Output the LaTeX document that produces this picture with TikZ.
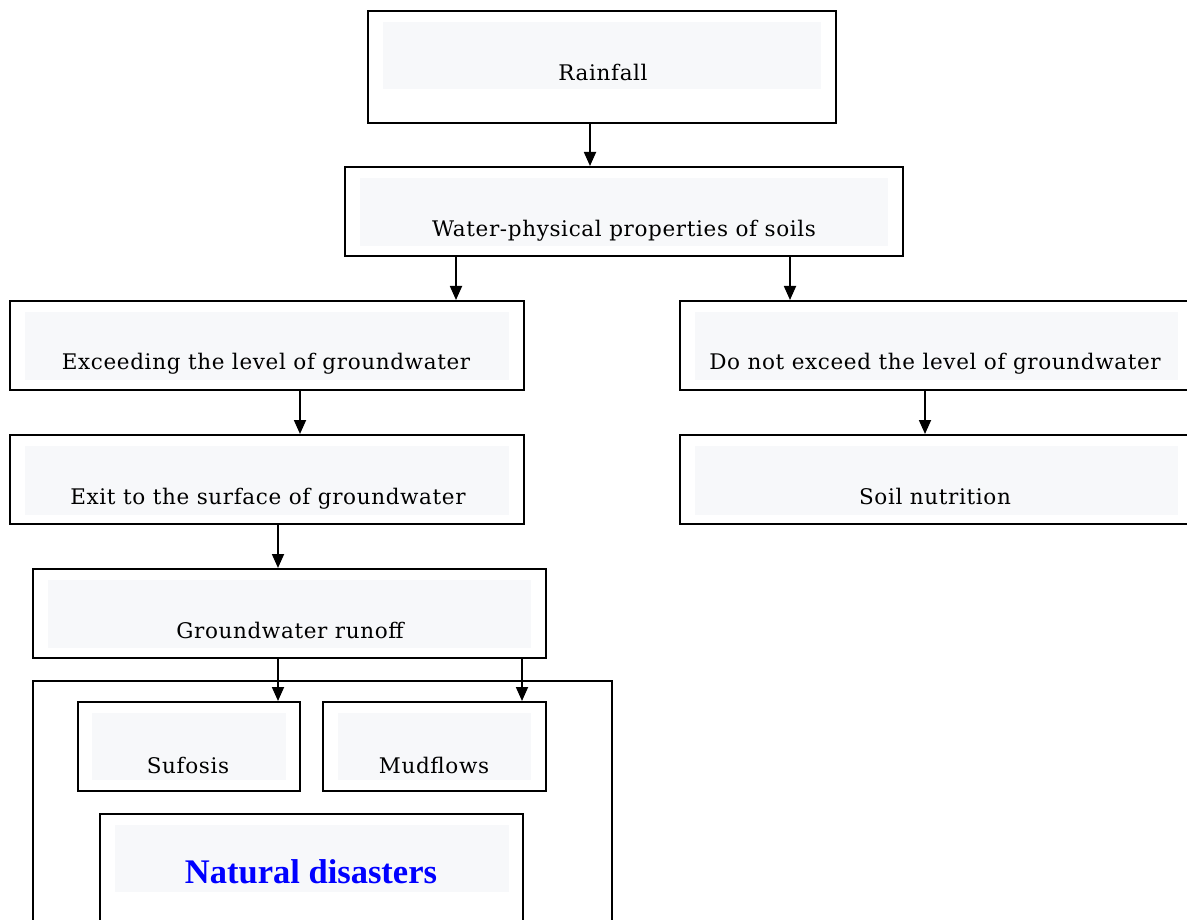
\documentclass[tikz,border=0pt]{standalone}
\usepackage{fontspec}
\setmainfont{DejaVu Serif}[LetterSpace=3]
\newfontfamily\ndfont{Liberation Serif}
\usetikzlibrary{arrows.meta}
\definecolor{panelgray}{RGB}{247,248,250}
\definecolor{ndblue}{RGB}{0,0,255}
\begin{document}
\begin{tikzpicture}[x=1pt,y=-1pt,
  box/.style={draw=black, line width=1.9pt, fill=none},
  lbl/.style={anchor=base, inner sep=0pt, font=\fontsize{21.5}{25}\selectfont},
  arr/.style={-{Triangle[width=12pt,length=14pt]}, line width=1.8pt}]
\useasboundingbox (0,0) rectangle (1187,920);
\clip (0,0) rectangle (1187,920);
\fill[white] (0,0) rectangle (1187,920);
% panels
\fill[panelgray] (383,22) rectangle (821,89);
\fill[panelgray] (360,178) rectangle (888,246);
\fill[panelgray] (25,312) rectangle (509,380);
\fill[panelgray] (695,312) rectangle (1178,380);
\fill[panelgray] (25,446) rectangle (509,515);
\fill[panelgray] (695,446) rectangle (1178,515);
\fill[panelgray] (48,580) rectangle (531,648);
\fill[panelgray] (92,713) rectangle (286,780);
\fill[panelgray] (338,713) rectangle (531,780);
\fill[panelgray] (115,825) rectangle (509,892);
% boxes
\node[box, anchor=north west, minimum width=468pt, minimum height=112pt] (rain) at (367,10) {};
\node[box, anchor=north west, minimum width=558pt, minimum height=89pt] (water) at (344,166) {};
\node[box, anchor=north west, minimum width=514pt, minimum height=89pt] (exc) at (9,300) {};
\node[box, anchor=north west, minimum width=521pt, minimum height=89pt] (dne) at (679,300) {};
\node[box, anchor=north west, minimum width=514pt, minimum height=89pt] (exit) at (9,434) {};
\node[box, anchor=north west, minimum width=521pt, minimum height=89pt] (soil) at (679,434) {};
\node[box, anchor=north west, minimum width=513pt, minimum height=89pt] (runoff) at (32,568) {};
\node[box, anchor=north west, minimum width=579pt, minimum height=260pt] (group) at (32,680) {};
\node[box, anchor=north west, minimum width=222pt, minimum height=89pt] (suf) at (77,701) {};
\node[box, anchor=north west, minimum width=223pt, minimum height=89pt] (mud) at (322,701) {};
\node[box, anchor=north west, minimum width=423pt, minimum height=127pt] (nd) at (99,813) {};
% labels
\node[lbl] (train) at (603,81) {Rainfall};
\node[lbl] (twater) at (624,237) {Water-physical properties of soils};
\node[lbl] (texc) at (266,370) {Exceeding the level of groundwater};
\node[lbl] (tdne) at (935,370) {Do not exceed the level of groundwater};
\node[lbl] (texit) at (268,504) {Exit to the surface of groundwater};
\node[lbl] (tsoil) at (935,504) {Soil nutrition};
\node[lbl] (trunoff) at (290,638) {Groundwater runoff};
\node[lbl] (tsuf) at (188,773) {Sufosis};
\node[lbl] (tmud) at (434,773) {Mudflows};
\node[anchor=base, inner sep=0pt, text=ndblue, font=\ndfont\bfseries\fontsize{34.5}{38}\selectfont] (tnd) at (311,883) {Natural disasters};
% arrow columns
\coordinate (c1) at (590,0);
\coordinate (c2) at (456,0);
\coordinate (c3) at (790,0);
\coordinate (c4) at (300,0);
\coordinate (c5) at (925,0);
\coordinate (c6) at (278,0);
\coordinate (c7) at (522,0);
\draw[arr] (rain.south -| c1) -- (water.north -| c1);
\draw[arr] (water.south -| c2) -- (exc.north -| c2);
\draw[arr] (water.south -| c3) -- (dne.north -| c3);
\draw[arr] (exc.south -| c4) -- (exit.north -| c4);
\draw[arr] (dne.south -| c5) -- (soil.north -| c5);
\draw[arr] (exit.south -| c6) -- (runoff.north -| c6);
\draw[arr] (runoff.south -| c6) -- (suf.north -| c6);
\draw[arr] (runoff.south -| c7) -- (mud.north -| c7);
\end{tikzpicture}
\end{document}
